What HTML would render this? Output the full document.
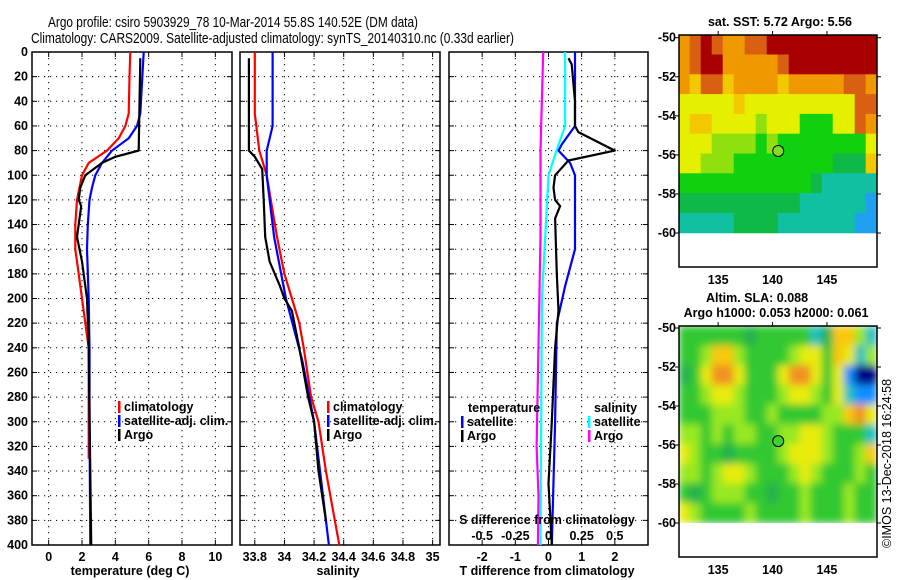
<!DOCTYPE html>
<html><head><meta charset="utf-8"><style>
body{margin:0;background:#fff}
svg{display:block;font-family:"Liberation Sans",sans-serif}
.t{font-size:12.5px;font-weight:bold}
.ti{font-size:14.5px}
</style></head><body>
<svg id="fig" width="900" height="580" viewBox="0 0 900 580">
<defs>
<filter id="blur" x="0" y="0" width="1" height="1"><feGaussianBlur stdDeviation="4"/></filter>
<clipPath id="clipB"><rect x="679" y="326" width="198" height="197"/></clipPath>
</defs>
<text class="ti" x="48" y="27" textLength="370" lengthAdjust="spacingAndGlyphs">Argo profile: csiro 5903929_78 10-Mar-2014 55.8S 140.52E (DM data)</text>
<text class="ti" x="31" y="43" textLength="483" lengthAdjust="spacingAndGlyphs">Climatology: CARS2009. Satellite-adjusted climatology: synTS_20140310.nc (0.33d earlier)</text>
<g id="g"></g>
</svg>
<script>
// ---- data ----
const depthTicks=[0,20,40,60,80,100,120,140,160,180,200,220,240,260,280,300,320,340,360,380,400];
const tTicks=[0,2,4,6,8,10];
const sTicks=[33.8,34,34.2,34.4,34.6,34.8,35];
const dTTicks=[-2,-1,0,1,2];
const dSTicks=[-0.5,-0.25,0,0.25,0.5];
const dSTickLabels=["-0.5","-0.25","0","0.25","0.5"];

const climTdep=[0,20,50,60,70,80,90,100,120,140,160,180,200,220,240,260,330];
const climT=[4.9,4.85,4.8,4.6,4.2,3.5,2.4,2.0,1.7,1.6,1.6,1.8,2.0,2.2,2.4,2.4,2.4];
const satTdep=[0,50,60,70,80,90,100,110,120,140,160,200,240,300,400];
const satT=[5.7,5.5,5.3,4.8,3.8,3.2,2.8,2.6,2.45,2.35,2.3,2.4,2.45,2.45,2.5];
const argoTdep=[5,80,85,90,100,110,120,125,140,150,170,200,240,400];
const argoT=[5.5,5.4,4.0,3.2,2.2,1.9,1.8,1.95,1.8,1.7,2.0,2.3,2.4,2.55];

const climSdep=[0,50,60,80,100,150,180,200,220,240,280,300,340,400];
const climS=[33.8,33.8,33.81,33.83,33.88,33.95,34.0,34.05,34.1,34.13,34.18,34.23,34.28,34.37];
const satSdep=[0,60,80,100,150,200,250,300,350,400];
const satS=[33.92,33.92,33.88,33.88,33.93,34.01,34.12,34.2,34.25,34.3];
const argoSdep=[5,80,85,95,120,150,170,190,200,210,240,280,300,340,380];
const argoS=[33.76,33.76,33.8,33.85,33.86,33.87,33.9,33.97,34.0,34.05,34.1,34.16,34.2,34.23,34.28];

const dTsatDep=[0,60,75,80,90,100,160,190,220,300,400];
const dTsat=[0.8,0.8,0.4,0.3,0.65,0.8,0.8,0.5,0.25,0.2,0.1];
const dTargoDep=[5,10,40,60,65,80,88,100,110,120,125,135,180,210,240,300,350,400];
const dTargo=[0.6,0.7,0.8,0.8,0.9,2.0,0.6,0.2,0.15,0.2,0.35,0.2,0.25,0.3,0.2,0.1,0.0,0.1];
const dSsatDep=[0,60,80,100,200,400];
const dSsat=[0.125,0.125,0.06,0,-0.05,-0.06];
const dSargoDep=[0,80,150,320,360,400];
const dSargo=[-0.04,-0.06,-0.06,-0.09,-0.075,-0.08];

const sstRows=["oOROooOORRRRRRRRRR","oORRoooooORRRRRRRR","oYOOYooooYoooooOOo","yyyyyYyyyyyyyyyyOO","yYYyyyyLyyyGGGyyOo","yyyLLLLGLGGGGGGGGy","yyLLLGGGGGGGGGgggY","GGGGGGGGGGGGgCCCCC","gggggggggggCCCCCCB","CCCCCggggCCCCCCCBB"];
const slaRows=["GGGGGGgGGGGGCgYYLC","GGLYYLGGGGLyyGYyCL","gGyOOyGGGyOOyGyBNN","GGLyyLGGGLyyLGyCBB","GGGLLLGGLGGGGLLYOy","LLGLGLLGGLLyyLGGGC","yLGGgGGGGLyyyLGGLY","LLGLyyLGGGLyLGGGLG","GgGLLLGGgGGLGGGLGG","yLGGGGLGGGGLGGGLGG"];

// ---- drawing ----
const NS="http://www.w3.org/2000/svg";const G=document.getElementById('g');
function el(t,a,p){const e=document.createElementNS(NS,t);for(const k in a)e.setAttribute(k,a[k]);(p||G).appendChild(e);return e;}
function txt(x,y,s,anchor,cls){const e=el('text',{x:x,y:y,'text-anchor':anchor||'middle',class:cls||'t'});e.textContent=s;return e;}
const Y0=52,Y1=545;const yD=d=>Y0+(Y1-Y0)*d/400;
function panel(x0,x1,lo,hi,ticks,labels,name,leftLabels){
  const sx=v=>x0+(x1-x0)*(v-lo)/(hi-lo);
  const fr=el('rect',{x:x0,y:Y0,width:x1-x0,height:Y1-Y0,fill:'none',stroke:'#000','stroke-width':1.5});
  
  
  depthTicks.forEach((d,i)=>{
    if(i>0&&i<depthTicks.length-1)el('line',{x1:x0,x2:x1,y1:yD(d),y2:yD(d),stroke:'#000','stroke-dasharray':'1.2,4.8','stroke-width':1});
    el('line',{x1:x0,x2:x0+5,y1:yD(d),y2:yD(d),stroke:'#000'});el('line',{x1:x1,x2:x1-5,y1:yD(d),y2:yD(d),stroke:'#000'});
    if(leftLabels){const t=txt(x0-4,yD(d)+4,String(d),'end');}
  });
  ticks.forEach((v,i)=>{
    el('line',{x1:sx(v),x2:sx(v),y1:Y0,y2:Y1,stroke:'#000','stroke-dasharray':'1.2,4.8'});
    el('line',{x1:sx(v),x2:sx(v),y1:Y1,y2:Y1-5,stroke:'#000'});el('line',{x1:sx(v),x2:sx(v),y1:Y0,y2:Y0+5,stroke:'#000'});
    const t=txt(sx(v),561,labels[i]);
  });
  return sx;
}
function line(sx,deps,vals,col,name,w){
  const pts=deps.map((d,i)=>sx(vals[i]).toFixed(1)+','+yD(d).toFixed(1)).join(' ');
  const p=el('polyline',{points:pts,fill:'none',stroke:col,'stroke-width':w||2.2,'stroke-linejoin':'round'});
  
  
}
function legend(x,y,items){items.forEach((it,i)=>{el('rect',{x:x,y:y+i*14-10,width:2.5,height:12,fill:it[1]});const t=txt(x+6,y+i*14,it[0],'start');});}

const sxT=panel(32,232,-1,11,tTicks,tTicks.map(String),'temperature-panel',true);
line(sxT,climTdep,climT,'#f00','climatology-temperature-line');
line(sxT,satTdep,satT,'#00f','satellite-temperature-line');
line(sxT,argoTdep,argoT,'#000','argo-temperature-line');
legend(118,411,[['climatology','#f00'],['satellite-adj. clim.','#00f'],['Argo','#000']]);
let a=txt(130,575,'temperature (deg C)');

const sxS=panel(240,440,33.70,35.05,sTicks,sTicks.map(String),'salinity-panel',false);
line(sxS,climSdep,climS,'#f00','climatology-salinity-line');
line(sxS,satSdep,satS,'#00f','satellite-salinity-line');
line(sxS,argoSdep,argoS,'#000','argo-salinity-line');
legend(327,411,[['climatology','#f00'],['satellite-adj. clim.','#00f'],['Argo','#000']]);
a=txt(338,575,'salinity');

const sxD=panel(449,648,-3,3,dTTicks,dTTicks.map(String),'difference-panel',false);
const sxDS=v=>sxD(v*4);
line(sxDS,dSsatDep,dSsat,'#0ff','salinity-satellite-diff-line');
line(sxDS,dSargoDep,dSargo,'#f0f','salinity-argo-diff-line');
line(sxD,dTsatDep,dTsat,'#00f','temperature-satellite-diff-line');
line(sxD,dTargoDep,dTargo,'#000','temperature-argo-diff-line');
a=txt(468,412,'temperature','start');
legend(461,412+14,[['satellite','#00f'],['Argo','#000']]);
a=txt(594,412,'salinity','start');
legend(588,412+14,[['satellite','#0ff'],['Argo','#f0f']]);
a=txt(547,524,'S difference from climatology');
dSTicks.forEach((v,i)=>{const t=txt(sxDS(v),540,dSTickLabels[i]);});
a=txt(547,575,'T difference from climatology');

// ---- maps ----
const sstCol={R:'#a80000',O:'#d86010',o:'#f09800',Y:'#f4c800',y:'#e4f000',L:'#90e010',G:'#10d010',g:'#10b848',C:'#10c0a0',B:'#20a0f0'};
const slaCol={G:'#30c830',g:'#20b050',L:'#98e820',y:'#e8ec10',Y:'#f8c810',O:'#f09020',C:'#20c0c0',N:'#000088',B:'#1090ff'};
function map(top,m50,m60,bot,rows,cols,name,title,blur){
  const x0=679,x1=877,lon0=131.4,lon1=149.6;
  const lx=v=>x0+(x1-x0)*(v-lon0)/(lon1-lon0);
  const ly=v=>m50+(m60-m50)*(-50-v)/10;
  const g=el('g',blur?{'clip-path':'url(#clipB)'}:{});
  
  
  const gg=el('g',blur?{filter:'url(#blur)'}:{},g);
  const cw=(x1-x0)/18,ch=(m60-top)/10;
  rows.forEach((r,i)=>{for(let j=0;j<r.length;j++)el('rect',{x:x0+j*cw-0.3,y:top+i*ch-0.3,width:cw+0.6,height:ch+0.6,fill:cols[r[j]]},gg);});
  el('circle',{cx:lx(140.52),cy:ly(-55.8),r:5.5,fill:blur?'#40d030':'#80e020',stroke:'#000','stroke-width':1});
  el('rect',{x:x0,y:top,width:x1-x0,height:bot-top,fill:'none',stroke:'#000','stroke-width':1.5});
  [-50,-52,-54,-56,-58,-60].forEach(v=>{el('line',{x1:x0-4,x2:x0,y1:ly(v),y2:ly(v),stroke:'#000'});el('line',{x1:x1,x2:x1+4,y1:ly(v),y2:ly(v),stroke:'#000'});const t=txt(676,ly(v)+4,String(v),'end');});
  [135,140,145].forEach(v=>{el('line',{x1:lx(v),x2:lx(v),y1:top-4,y2:top,stroke:'#000'});const t=txt(lx(v),bot+17,String(v));});
}
map(35,37.7,233,267,sstRows,sstCol,'sst-map',null,false);
map(326,328,523,557,slaRows,slaCol,'sla-map',null,true);
a=txt(780,26,'sat. SST: 5.72 Argo: 5.56');
a=txt(757,302,'Altim. SLA: 0.088');
a=txt(776,317,'Argo h1000: 0.053 h2000: 0.061');
a=el('text',{x:0,y:0,transform:'translate(891,548) rotate(-90)','font-size':'12.5px'});a.textContent='©IMOS 13-Dec-2018 16:24:58';

</script>
</body></html>
